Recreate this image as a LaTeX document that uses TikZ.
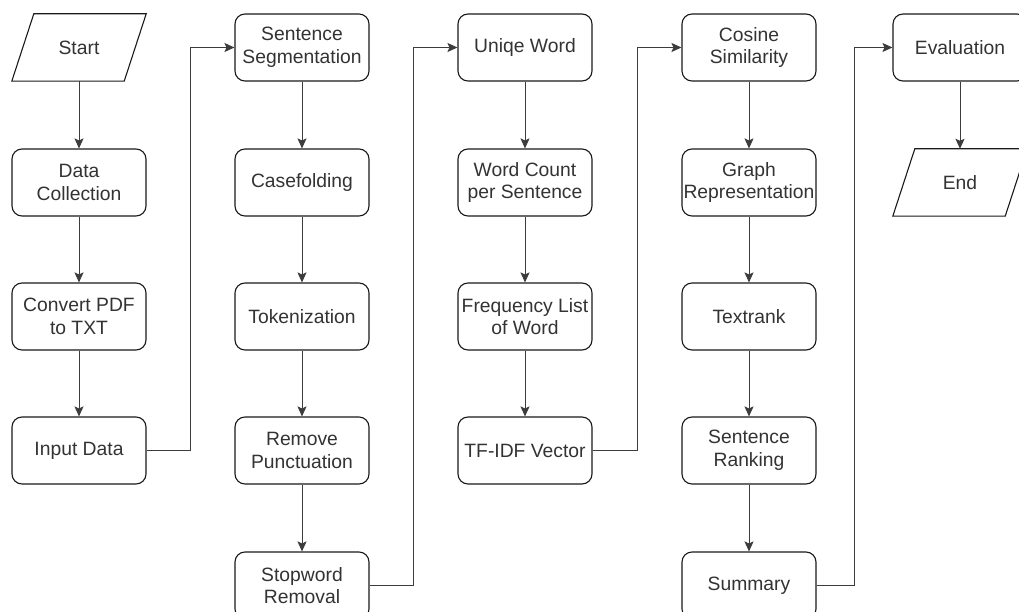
\documentclass[tikz,border=0pt]{standalone}
\usepackage{fontspec}
\setmainfont{Liberation Sans}
\usetikzlibrary{arrows.meta}
\definecolor{txt}{HTML}{333333}
\definecolor{ln}{HTML}{1A1A1A}
\tikzset{
  box/.style={draw=ln, line width=1.1bp, rounded corners=10bp, minimum width=134bp, minimum height=67bp,
    inner sep=0pt, align=center, text=txt, font=\fontsize{19.3bp}{22.5bp}\selectfont},
  para/.style={minimum width=134bp, minimum height=67bp, inner sep=0pt, align=center, text=txt,
    font=\fontsize{19.3bp}{22.5bp}\selectfont},
  pshape/.style={draw=ln, line width=1.1bp, line join=miter},
  arr/.style={draw=ln!85!white, line width=1bp, -{Stealth[length=10bp,width=9bp,inset=2bp]}}
}
\begin{document}
\begin{tikzpicture}[x=1bp,y=-1bp]
\clip (0,0) rectangle (1019,612);
\fill[white] (0,0) rectangle (1019,612);
% column 1
\node[para] (st) at (79,47.5) {Start};
\draw[pshape] ([xshift=22bp]st.north west) -- (st.north east) -- ([xshift=-22bp]st.south east) -- (st.south west) -- cycle;
\node[box] (dc) at (79,182.5) {Data\\Collection};
\node[box] (cv) at (79,316.5) {Convert PDF\\to TXT};
\node[box] (in) at (79,450.5) {Input Data};
% column 2
\node[box] (ss) at (302,47.5) {Sentence\\Segmentation};
\node[box] (cf) at (302,182.5) {Casefolding};
\node[box] (tk) at (302,316.5) {Tokenization};
\node[box] (rp) at (302,450.5) {Remove\\Punctuation};
\node[box] (sw) at (302,585.5) {Stopword\\Removal};
% column 3
\node[box] (uw) at (525,47.5) {Uniqe Word};
\node[box] (wc) at (525,182.5) {Word Count\\per Sentence};
\node[box] (fl) at (525,316.5) {Frequency List\\of Word};
\node[box] (tf) at (525,450.5) {TF-IDF Vector};
% column 4
\node[box] (cs) at (749,47.5) {Cosine\\Similarity};
\node[box] (gr) at (749,182.5) {Graph\\Representation};
\node[box] (tr) at (749,316.5) {Textrank};
\node[box] (sr) at (749,450.5) {Sentence\\Ranking};
\node[box] (sm) at (749,585.5) {Summary};
% column 5
\node[box] (ev) at (960,47.5) {Evaluation};
\node[para] (en) at (960,182.5) {End};
\draw[pshape] ([xshift=22bp]en.north west) -- (en.north east) -- ([xshift=-22bp]en.south east) -- (en.south west) -- cycle;
% connectors
\draw[arr] (st) -- (dc);
\draw[arr] (dc) -- (cv);
\draw[arr] (cv) -- (in);
\draw[arr] (in.east) -- ++(44,0) |- (ss.west);
\draw[arr] (ss) -- (cf);
\draw[arr] (cf) -- (tk);
\draw[arr] (tk) -- (rp);
\draw[arr] (rp) -- (sw);
\draw[arr] (sw.east) -- ++(44,0) |- (uw.west);
\draw[arr] (uw) -- (wc);
\draw[arr] (wc) -- (fl);
\draw[arr] (fl) -- (tf);
\draw[arr] (tf.east) -- ++(45,0) |- (cs.west);
\draw[arr] (cs) -- (gr);
\draw[arr] (gr) -- (tr);
\draw[arr] (tr) -- (sr);
\draw[arr] (sr) -- (sm);
\draw[arr] (sm.east) -- ++(38,0) |- (ev.west);
\draw[arr] (ev) -- (en);
\end{tikzpicture}
\end{document}
